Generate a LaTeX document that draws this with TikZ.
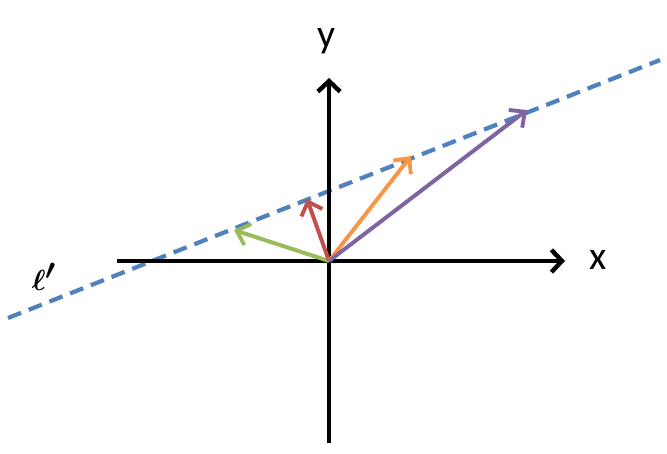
\documentclass[tikz,border=0pt]{standalone}
\usepackage{amsmath}
\usepackage{bm}
\usepackage{fontspec}
\setmainfont{Carlito}
\usetikzlibrary{arrows.meta,positioning}

\definecolor{lblue}{HTML}{4F81BD}
\definecolor{lgreen}{HTML}{9BBB59}
\definecolor{lred}{HTML}{C0504D}
\definecolor{lorange}{HTML}{F79646}
\definecolor{lpurple}{HTML}{8064A2}

\tikzset{
  axis/.style={line width=4.2pt,-{Straight Barb[length=9pt,width=19pt,line width=3.8pt]}},
  vec/.style={line width=3.4pt,-{Straight Barb[length=10pt,width=19pt,line width=3.3pt]}},
  lbl/.style={inner sep=0pt,font=\fontsize{34}{40}\selectfont}
}

\begin{document}
\begin{tikzpicture}[x=0.03cm,y=-0.03cm]
  \useasboundingbox (0,0) rectangle (667,454);

  \coordinate (O) at (329,261);
  \coordinate (xl) at (117,261);
  \coordinate (xr) at (565,261);
  \coordinate (yb) at (329,443);
  \coordinate (yt) at (329,78);

  % the line l'
  \coordinate (la) at (8,318);
  \coordinate (lb) at (660,60);
  \draw[lblue,line width=3.6pt,dash pattern=on 12pt off 7pt] (la) -- (lb);

  % axes
  \draw[axis] (xl) -- (xr);
  \draw[axis] (yb) -- (yt);
  \node[lbl] (xlab) at (598,260) {x};
  \node[lbl] (ylab) at (327,41) {y};
  \node[lbl,font=\fontsize{38}{44}\selectfont] (llab) at (44,277) {$\bm{\ell'}$};

  % vectors
  \coordinate (g) at (234,230);
  \coordinate (r) at (307,199);
  \coordinate (o) at (411,156);
  \coordinate (p) at (527,110);
  \draw[vec,lgreen] (O) -- (g);
  \draw[vec,lred] (O) -- (r);
  \draw[vec,lorange] (O) -- (o);
  \draw[vec,lpurple] (O) -- (p);
\end{tikzpicture}
\end{document}
